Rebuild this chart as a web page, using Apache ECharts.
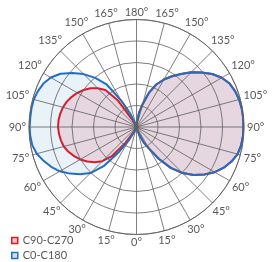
<!DOCTYPE html>
<html>
<head>
<meta charset="utf-8">
<script src="https://cdn.jsdelivr.net/npm/echarts@6/dist/echarts.min.js"></script>
<style>
html,body{margin:0;padding:0;background:#fff;}
#c{width:273px;height:262px;}
</style>
</head>
<body>
<div id="c"></div>
<script>
// Gamma angles (degrees from nadir), 5° steps
var gammas = [0,5,10,15,20,25,30,35,40,45,50,55,60,65,70,75,80,85,90,95,100,105,110,115,120,125,130,135,140,145,150,155,160,165,170,175,180];
// C90-C270 (red), left half and right half
var redLeft  = [0,0,0,0,0,5,30,90,175,225,255,280,302,320,337,350,357,362,365,364,360,354,345,332,318,300,280,255,225,150,40,0,0,0,0,0,0];
var redRight = [0,0,0,10,40,80,115,180,248,303,347,385,420,448,470,487,494,497,497,498,497,494,488,478,458,430,395,360,322,288,255,218,170,110,65,25,0];
// C0-C180 (blue), left half and right half
var blueLeft  = [0,0,0,0,5,25,72,140,238,303,342,378,412,438,460,480,492,496,497,496,496,495,488,478,460,432,390,348,298,240,142,72,18,0,0,0,0];
var blueRight = [0,0,0,10,40,80,115,180,248,303,347,385,420,448,470,487,494,497,497,498,497,494,488,478,458,430,395,360,322,288,255,218,170,110,65,25,0];
var seriesNames = ['C90-C270','C0-C180'];
// angle tick positions (0..345, every 15) and their labels
var tickPositions = [0,15,30,45,60,75,90,105,120,135,150,165,180,195,210,225,240,255,270,285,300,315,330,345];
var tickLabels = ['0°','15°','30°','45°','60°','75°','90°','105°','120°','135°','150°','165°','180°','165°','150°','135°','120°','105°','90°','75°','60°','45°','30°','15°'];

function buildPath(left, right){
  var pts = [];
  for (var i=0;i<gammas.length;i++) pts.push([left[i], gammas[i]]);
  for (var j=gammas.length-1;j>=0;j--) pts.push([right[j], 360-gammas[j]]);
  return pts;
}

var chart = echarts.init(document.getElementById('c'), null, {renderer:'canvas'});
var gridColor = '#5e5e5e';
var labelColor = '#595959';
var labelFont = '11px Lato';
var legendText = {color:labelColor, fontFamily:'Lato', fontSize:11, lineHeight:13};
var RMAX = 500;
chart.setOption({
  animation:false,
  backgroundColor:'#fff',
  polar:{center:[136.5,127], radius:[0,107.5]},
  angleAxis:{
    type:'value', min:0, max:360, interval:15, startAngle:270, clockwise:true,
    axisLine:{show:true, lineStyle:{color:gridColor, width:0.8}},
    axisTick:{show:false},
    splitLine:{show:true, lineStyle:{color:gridColor, width:0.8}},
    axisLabel:{show:false},
    z:5
  },
  radiusAxis:{
    type:'value', min:0, max:RMAX, interval:100,
    axisLine:{show:false}, axisTick:{show:false}, axisLabel:{show:false},
    splitLine:{show:true, lineStyle:{color:gridColor, width:0.8}},
    z:5
  },
  legend:[
    {orient:'vertical', left:11, top:234, padding:0, itemWidth:6, itemHeight:6, textStyle:legendText,
     data:[{name:seriesNames[0], icon:'rect', itemStyle:{color:'#f6c9cc', borderColor:'#e8141e', borderWidth:1.5}}]},
    {orient:'vertical', left:11, top:249, padding:0, itemWidth:6, itemHeight:6, textStyle:legendText,
     data:[{name:seriesNames[1], icon:'rect', itemStyle:{color:'#cfe0f3', borderColor:'#1f6fc6', borderWidth:1.5}}]}
  ],
  series:[
    {name:seriesNames[0], type:'line', coordinateSystem:'polar', data:buildPath(redLeft, redRight),
     symbol:'none', smooth:false, lineStyle:{color:'#e8141e', width:2},
     itemStyle:{color:'#e8141e'},
     areaStyle:{color:'rgba(225,0,20,0.17)'}, z:2},
    {name:seriesNames[1], type:'line', coordinateSystem:'polar', data:buildPath(blueLeft, blueRight),
     symbol:'none', smooth:false, lineStyle:{color:'#1f6fc6', width:2},
     itemStyle:{color:'#1f6fc6'},
     areaStyle:{color:'rgba(31,111,198,0.14)'}, z:3}
  ]
});

// Angle labels centred outside the rim (positions from the polar coordinate system)
var ctx = document.createElement('canvas').getContext('2d');
ctx.font = labelFont;
var c0 = chart.convertToPixel({polarIndex:0}, [0, 0]);
var gap = 3, hh = 4.5;
var labelEls = [];
for (var k=0;k<tickPositions.length;k++){
  var p = chart.convertToPixel({polarIndex:0}, [RMAX, tickPositions[k]]);
  var dx = p[0]-c0[0], dy = p[1]-c0[1], L = Math.sqrt(dx*dx+dy*dy);
  var ux = dx/L, uy = dy/L;
  var hw = ctx.measureText(tickLabels[k]).width/2;
  var d = gap + Math.abs(ux)*hw + Math.abs(uy)*hh;
  labelEls.push({type:'text', silent:true, x:p[0]+ux*d, y:p[1]+uy*d,
    style:{text:tickLabels[k], align:'center', verticalAlign:'middle', fill:labelColor, font:labelFont}});
}
chart.setOption({graphic:labelEls});
</script>
</body>
</html>
